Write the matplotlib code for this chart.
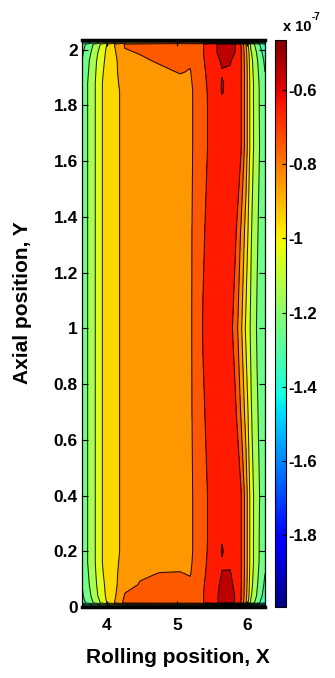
import numpy as np
import matplotlib.pyplot as plt
from matplotlib.colors import Normalize
from matplotlib.cm import ScalarMappable

plt.rcParams['font.family'] = ['Liberation Sans', 'DejaVu Sans']
plt.rcParams['font.weight'] = 'bold'

# sampled columns (rolling position X) and rows (axial position Y)
x_pos = [3.643, 3.70, 3.771, 3.843, 3.914, 4.014, 4.129, 4.257, 4.471, 4.757, 5.043, 5.186,
         5.271, 5.371, 5.50, 5.643, 5.757, 5.843, 5.914, 5.986, 6.057, 6.143, 6.257]
y_pos = [0.0, 0.015, 0.04, 0.08, 0.12, 0.16, 0.2, 0.25, 0.4, 0.7, 1.0, 1.35, 1.65,
         1.8, 1.85, 1.88, 1.92, 1.96, 1.99, 2.02, 2.035]

# field values (x 1e-7), one row per y_pos
z_rows = [
    [-1.80, -1.75, -1.70, -1.65, -1.60, -1.55, -1.50, -1.50, -1.50, -1.50, -1.50, -1.50,
     -1.50, -1.60, -1.70, -1.80, -1.85, -1.90, -1.90, -1.90, -1.90, -1.90, -1.90],   # 0
    [-1.40, -1.34, -1.28, -1.21, -1.14, -1.03, -0.93, -0.82, -0.81, -0.80, -0.80, -0.80,
     -0.80, -0.755, -0.68, -0.63, -0.62, -0.66, -0.752, -0.948, -1.18, -1.30, -1.45],  # 0.015
    [-1.37, -1.31, -1.25, -1.18, -1.10, -1.02, -0.948, -0.84, -0.83, -0.815, -0.81, -0.815,
     -0.80, -0.755, -0.68, -0.63, -0.615, -0.66, -0.745, -0.92, -1.14, -1.26, -1.40],  # 0.04
    [-1.35, -1.29, -1.23, -1.16, -1.08, -1.02, -0.96, -0.88, -0.845, -0.83, -0.825, -0.835,
     -0.81, -0.76, -0.69, -0.635, -0.625, -0.68, -0.74, -0.91, -1.12, -1.24, -1.37],   # 0.08
    [-1.34, -1.28, -1.22, -1.148, -1.07, -1.01, -0.96, -0.905, -0.86, -0.848, -0.846, -0.855,
     -0.82, -0.77, -0.70, -0.648, -0.64, -0.70, -0.74, -0.90, -1.11, -1.23, -1.35],    # 0.12
    [-1.32, -1.27, -1.21, -1.14, -1.06, -1.01, -0.96, -0.925, -0.89, -0.87, -0.87, -0.86,
     -0.83, -0.775, -0.71, -0.655, -0.67, -0.705, -0.74, -0.90, -1.10, -1.22, -1.34],  # 0.16
    [-1.32, -1.27, -1.21, -1.14, -1.06, -1.01, -0.96, -0.935, -0.915, -0.90, -0.885, -0.862,
     -0.835, -0.78, -0.715, -0.645, -0.675, -0.71, -0.74, -0.90, -1.10, -1.22, -1.33], # 0.2
    [-1.32, -1.27, -1.21, -1.14, -1.06, -1.01, -0.96, -0.935, -0.915, -0.90, -0.885, -0.862,
     -0.835, -0.78, -0.72, -0.655, -0.68, -0.71, -0.74, -0.90, -1.10, -1.22, -1.33],   # 0.25
    [-1.32, -1.27, -1.21, -1.14, -1.06, -1.01, -0.96, -0.935, -0.915, -0.90, -0.885, -0.862,
     -0.835, -0.78, -0.72, -0.68, -0.68, -0.71, -0.74, -0.90, -1.10, -1.217, -1.32],   # 0.4
    [-1.32, -1.27, -1.21, -1.14, -1.06, -1.01, -0.96, -0.935, -0.915, -0.90, -0.885, -0.862,
     -0.825, -0.76, -0.71, -0.68, -0.69, -0.745, -0.86, -0.99, -1.14, -1.24, -1.32],   # 0.7
    [-1.32, -1.27, -1.21, -1.14, -1.06, -1.01, -0.96, -0.935, -0.915, -0.90, -0.885, -0.862,
     -0.82, -0.745, -0.70, -0.68, -0.71, -0.81, -0.93, -1.07, -1.167, -1.258, -1.32],  # 1.0
    [-1.32, -1.27, -1.21, -1.14, -1.06, -1.01, -0.96, -0.935, -0.915, -0.90, -0.885, -0.862,
     -0.825, -0.76, -0.71, -0.68, -0.69, -0.745, -0.86, -0.99, -1.14, -1.24, -1.32],   # 1.35
    [-1.32, -1.27, -1.21, -1.14, -1.06, -1.01, -0.96, -0.935, -0.915, -0.90, -0.885, -0.862,
     -0.835, -0.78, -0.72, -0.68, -0.68, -0.71, -0.74, -0.90, -1.10, -1.217, -1.32],   # 1.65
    [-1.32, -1.27, -1.21, -1.14, -1.06, -1.01, -0.96, -0.935, -0.915, -0.90, -0.885, -0.862,
     -0.835, -0.78, -0.72, -0.67, -0.68, -0.71, -0.74, -0.90, -1.10, -1.22, -1.33],    # 1.8
    [-1.32, -1.27, -1.21, -1.14, -1.06, -1.01, -0.96, -0.935, -0.915, -0.90, -0.885, -0.862,
     -0.835, -0.78, -0.715, -0.645, -0.675, -0.71, -0.74, -0.90, -1.10, -1.22, -1.33], # 1.85
    [-1.32, -1.27, -1.21, -1.14, -1.06, -1.01, -0.96, -0.925, -0.905, -0.89, -0.875, -0.86,
     -0.83, -0.775, -0.71, -0.645, -0.67, -0.705, -0.74, -0.90, -1.10, -1.22, -1.34],  # 1.88
    [-1.34, -1.28, -1.22, -1.148, -1.07, -1.01, -0.96, -0.90, -0.89, -0.87, -0.845, -0.855,
     -0.82, -0.77, -0.70, -0.655, -0.665, -0.70, -0.74, -0.90, -1.11, -1.23, -1.35],   # 1.92
    [-1.35, -1.29, -1.23, -1.16, -1.08, -1.02, -0.96, -0.88, -0.865, -0.84, -0.82, -0.84,
     -0.81, -0.76, -0.69, -0.64, -0.64, -0.69, -0.74, -0.91, -1.12, -1.24, -1.37],     # 1.96
    [-1.37, -1.31, -1.25, -1.18, -1.10, -1.02, -0.948, -0.86, -0.845, -0.82, -0.80, -0.81,
     -0.80, -0.755, -0.68, -0.62, -0.61, -0.66, -0.74, -0.92, -1.14, -1.26, -1.40],    # 1.99
    [-1.40, -1.34, -1.28, -1.21, -1.14, -1.03, -0.93, -0.84, -0.825, -0.81, -0.80, -0.80,
     -0.80, -0.755, -0.68, -0.62, -0.60, -0.652, -0.752, -0.948, -1.18, -1.30, -1.45], # 2.02
    [-1.75, -1.70, -1.65, -1.60, -1.55, -1.50, -1.45, -1.30, -1.25, -1.20, -1.20, -1.25,
     -1.30, -1.40, -1.50, -1.60, -1.70, -1.80, -1.85, -1.90, -1.90, -1.90, -1.90],     # 2.035
]

levels = [-1.95, -1.85, -1.75, -1.65, -1.55, -1.45, -1.35, -1.25, -1.15, -1.05,
          -0.95, -0.85, -0.75, -0.65, -0.55]
cb_min, cb_max = -1.994, -0.465
cb_ticks = [-1.8, -1.6, -1.4, -1.2, -1.0, -0.8, -0.6]
cb_labels = ['-1.8', '-1.6', '-1.4', '-1.2', '-1', '-0.8', '-0.6']
y_ticks = [0, 0.2, 0.4, 0.6, 0.8, 1.0, 1.2, 1.4, 1.6, 1.8, 2.0]
y_labels = ['0', '0.2', '0.4', '0.6', '0.8', '1', '1.2', '1.4', '1.6', '1.8', '2']
x_ticks = [4, 5, 6]

X, Y = np.meshgrid(x_pos, y_pos)
Z = np.array(z_rows)

fig = plt.figure(figsize=(3.35, 6.78), dpi=100)
ax = fig.add_axes([82/335, 71/678, 183/335, 567/678])
cax = fig.add_axes([275/335, 71/678, 11/335, 567/678])

norm = Normalize(cb_min, cb_max)
# each band takes the colour of its upper level, like the original
band_norm = Normalize(cb_min - 0.05, cb_max - 0.05)
ax.contourf(X, Y, Z, levels=levels, cmap='jet', norm=band_norm)
ax.contour(X, Y, Z, levels=levels, colors='k', linewidths=0.75, alpha=0.85,
           linestyles='solid')

ax.set_xlim(3.643, 6.257)
ax.set_ylim(0, 2.035)
ax.set_xticks(x_ticks)
ax.set_yticks(y_ticks)
ax.set_yticklabels(y_labels)
ax.tick_params(direction='in', length=4, width=0.8, top=True, right=True,
               labelsize=12.5, pad=3)
ax.tick_params(axis='x', pad=8)
for s in ax.spines.values():
    s.set_linewidth(0.9)
# the packed edge contours read as a thick dark rim top and bottom
ax.spines['top'].set_linewidth(2.5)
ax.spines['bottom'].set_linewidth(2.5)

ax.set_xlabel('Rolling position, X', fontsize=15, fontweight='bold')
ax.xaxis.set_label_coords(0.525, -0.072)
ax.set_ylabel('Axial position, Y', fontsize=15, fontweight='bold')
ax.yaxis.set_label_coords(-0.273, 0.536)

cb = fig.colorbar(ScalarMappable(norm=norm, cmap='jet'), cax=cax, ticks=cb_ticks)
cb.ax.set_yticklabels(cb_labels)
cb.ax.tick_params(labelsize=12, length=3, width=0.8, direction='in', pad=2)
cb.outline.set_linewidth(0.8)

fig.text(283/335, 1 - 27/678, 'x 10', fontsize=10.5, fontweight='bold', va='center')
fig.text(312/335, 1 - 17/678, '-7', fontsize=7, fontweight='bold', va='center')

fig.savefig('out.png', dpi=100)
